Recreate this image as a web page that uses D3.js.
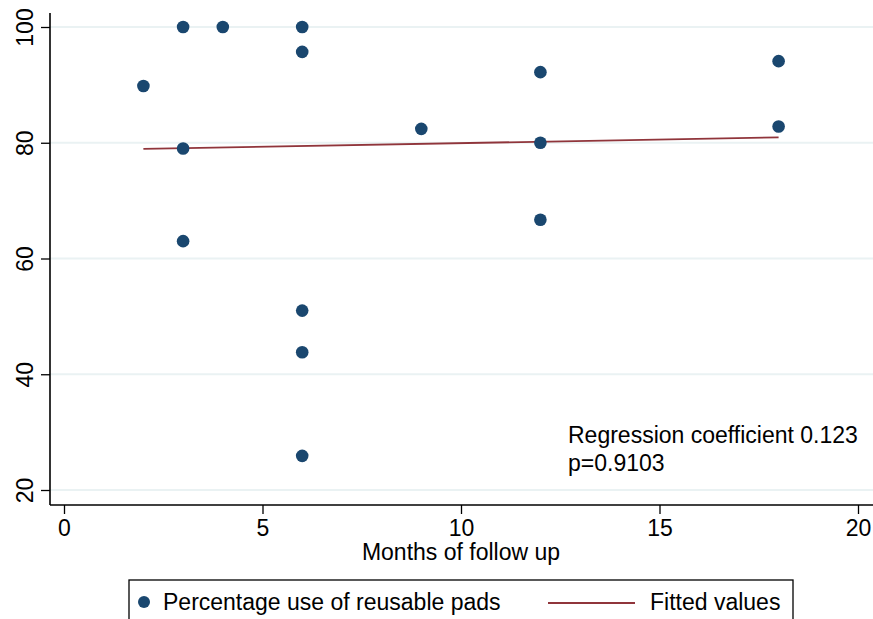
<!DOCTYPE html>
<html>
<head>
<meta charset="utf-8">
<script src="https://cdn.jsdelivr.net/npm/d3@7"></script>
<style>
  body { margin: 0; background: #fff; }
  text { font-family: "Liberation Sans", Arial, sans-serif; }
</style>
</head>
<body>
<svg id="chart" width="873" height="619"></svg>
<script>
// months of follow up vs percentage use of reusable pads
var months = [2, 3, 3, 3, 4, 6, 6, 6, 6, 6, 9, 12, 12, 12, 18, 18];
var pctUse = [89.8, 100, 79, 63, 100, 100, 95.7, 51, 43.8, 25.9, 82.4, 92.2, 80, 66.7, 94.1, 82.8];
var fittedX = [2, 18];
var fittedY = [78.95, 80.92];
var xTicks = [0, 5, 10, 15, 20];
var yTicks = [20, 40, 60, 80, 100];
var noteLines = ["Regression coefficient 0.123", "p=0.9103"];
var legendLabels = ["Percentage use of reusable pads", "Fitted values"];

var dotColor = "#1a476f";
var lineColor = "#90353b";
var fs = 23;

var svg = d3.select("#chart");

var x = d3.scaleLinear().domain([0, 20]).range([64, 858]);
var y = d3.scaleLinear().domain([20, 100]).range([490, 27]);

// gridlines
svg.append("g")
    .selectAll("line")
    .data(yTicks)
    .enter().append("line")
    .attr("x1", 50).attr("x2", 873)
    .attr("y1", function (d) { return y(d); })
    .attr("y2", function (d) { return y(d); })
    .attr("stroke", "#eaf2f3")
    .attr("stroke-width", 2);

// y axis
var yAxis = svg.append("g")
    .attr("transform", "translate(50,0)")
    .call(d3.axisLeft(y).tickValues(yTicks).tickSize(9).tickSizeOuter(0));
yAxis.select(".domain").attr("d", "M0,13V505").attr("stroke", "#000").attr("stroke-width", 1.6);
yAxis.selectAll(".tick line").attr("stroke", "#000").attr("stroke-width", 1.3);
yAxis.selectAll(".tick text")
    .attr("font-size", fs)
    .attr("fill", "#000")
    .attr("text-anchor", "middle")
    .attr("x", null).attr("dy", null)
    .attr("transform", "translate(-17,0) rotate(-90)");

// x axis
var xAxis = svg.append("g")
    .attr("transform", "translate(0,505)")
    .call(d3.axisBottom(x).tickValues(xTicks).tickSize(9).tickSizeOuter(0).tickPadding(6));
xAxis.select(".domain").attr("d", "M50,0H873").attr("stroke", "#000").attr("stroke-width", 1.6);
xAxis.selectAll(".tick line").attr("stroke", "#000").attr("stroke-width", 1.3);
xAxis.selectAll(".tick text").attr("font-size", fs).attr("fill", "#000");

svg.append("text")
    .attr("x", 461).attr("y", 560)
    .attr("text-anchor", "middle")
    .attr("font-size", fs)
    .text("Months of follow up");

// fitted line
var line = d3.line()
    .x(function (d) { return x(d[0]); })
    .y(function (d) { return y(d[1]); });
svg.append("path")
    .datum(d3.zip(fittedX, fittedY))
    .attr("d", line)
    .attr("fill", "none")
    .attr("stroke", lineColor)
    .attr("stroke-width", 1.8);

// points
svg.append("g")
    .selectAll("circle")
    .data(d3.zip(months, pctUse))
    .enter().append("circle")
    .attr("cx", function (d) { return x(d[0]); })
    .attr("cy", function (d) { return y(d[1]); })
    .attr("r", 6.3)
    .attr("fill", dotColor);

// note
svg.append("g")
    .selectAll("text")
    .data(noteLines)
    .enter().append("text")
    .attr("x", 568)
    .attr("y", function (d, i) { return 443 + i * 28; })
    .attr("font-size", fs)
    .text(function (d) { return d; });

// legend
var lg = svg.append("g");
lg.append("rect")
    .attr("x", 129).attr("y", 580)
    .attr("width", 664).attr("height", 60)
    .attr("fill", "#fff")
    .attr("stroke", "#000")
    .attr("stroke-width", 1.3);
lg.append("circle")
    .attr("cx", 144).attr("cy", 602).attr("r", 6)
    .attr("fill", dotColor);
lg.append("text")
    .attr("x", 163).attr("y", 610)
    .attr("font-size", fs)
    .text(legendLabels[0]);
lg.append("line")
    .attr("x1", 548).attr("x2", 635)
    .attr("y1", 603).attr("y2", 603)
    .attr("stroke", lineColor)
    .attr("stroke-width", 1.8);
lg.append("text")
    .attr("x", 650).attr("y", 610)
    .attr("font-size", fs)
    .text(legendLabels[1]);
</script>
</body>
</html>
